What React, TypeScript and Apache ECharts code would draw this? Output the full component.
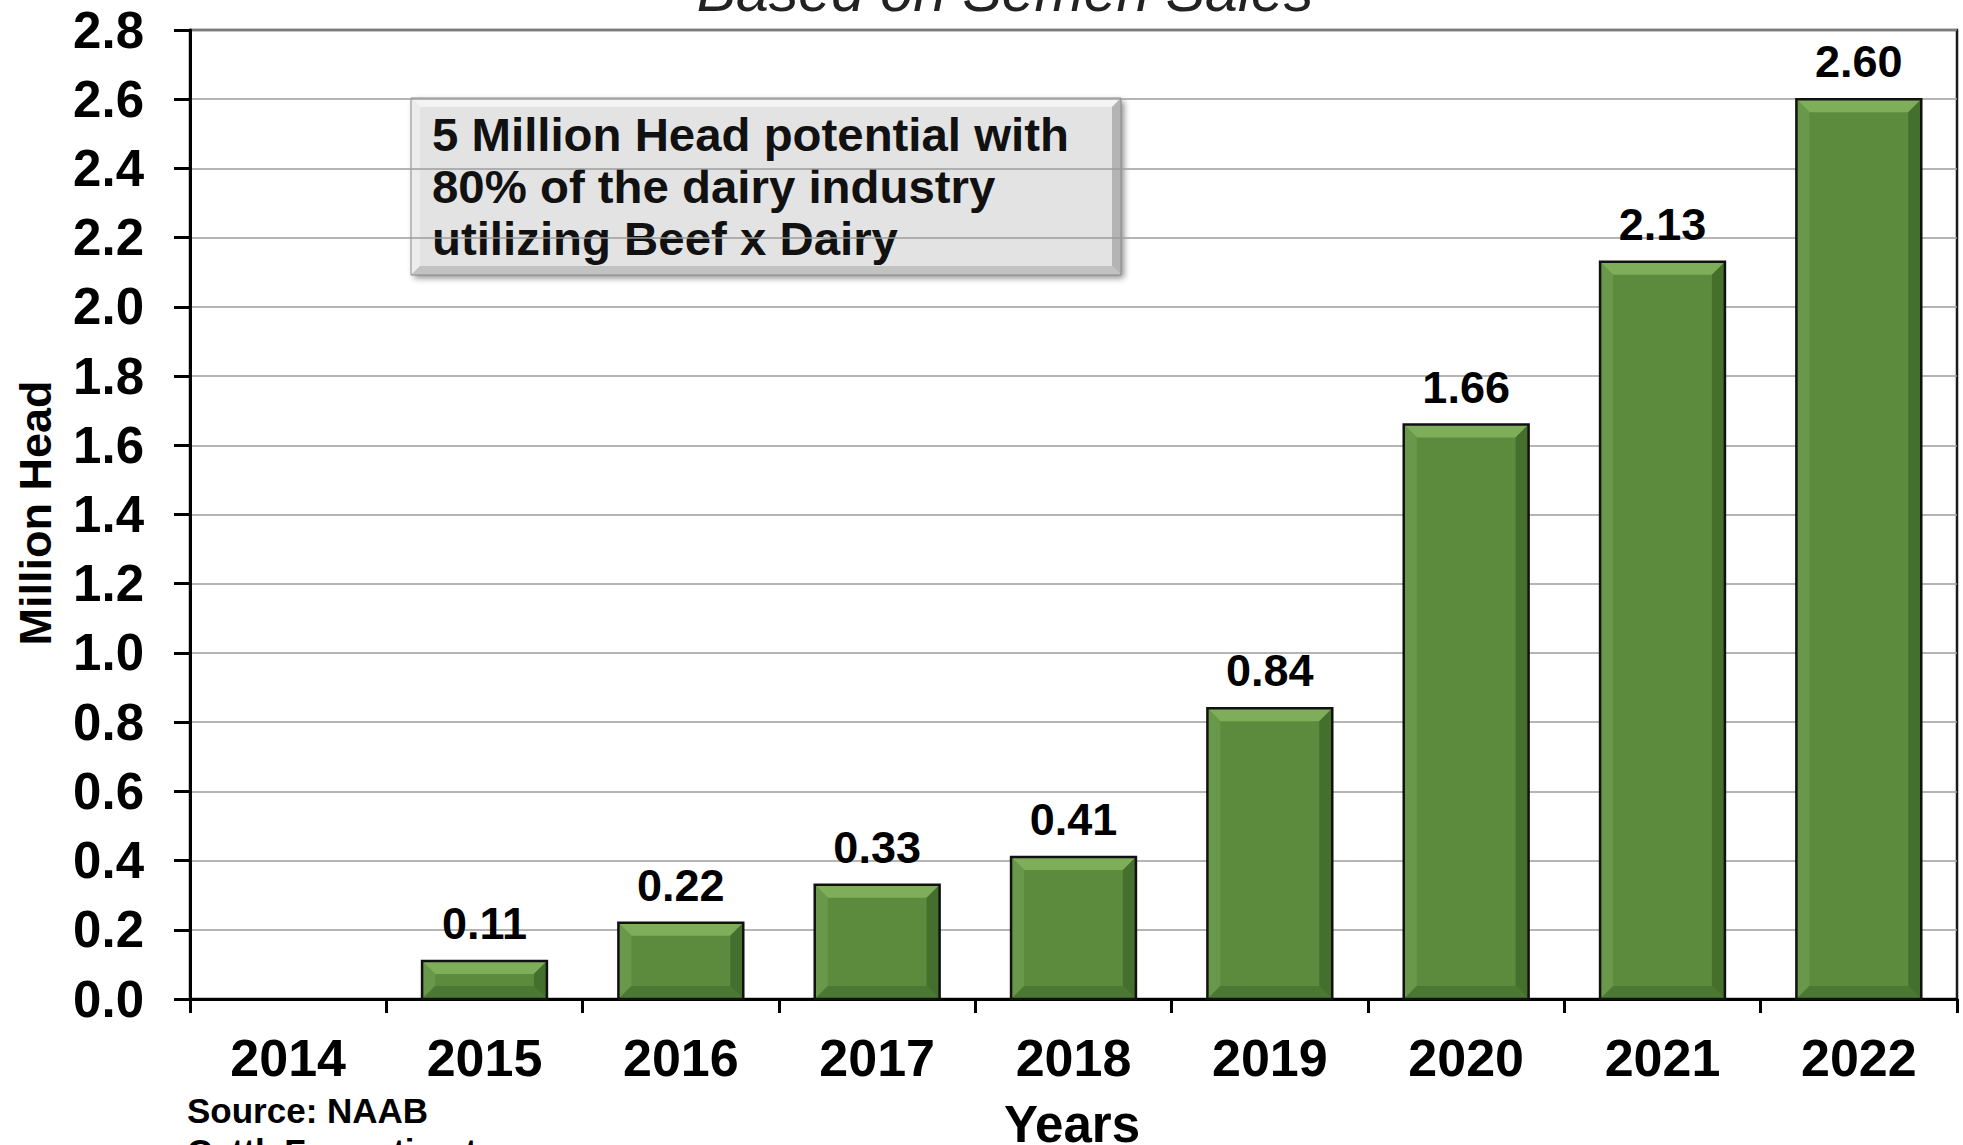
import React, { useEffect, useRef } from "react";
import * as echarts from "echarts";

const years = ["2014", "2015", "2016", "2017", "2018", "2019", "2020", "2021", "2022"];
const millionHead: (number | null)[] = [null, 0.11, 0.22, 0.33, 0.41, 0.84, 1.66, 2.13, 2.6];
const boxLines = ["5 Million Head potential with", "80% of the dairy industry", "utilizing Beef x Dairy"];
const titleText = "Based on Semen Sales";
const sourceLines = ["Source: NAAB", "CattleFax estimates"];
const yName = "Million Head";
const xName = "Years";

const FONT = "'Liberation Sans', Arial, Helvetica, sans-serif";

export default function App() {
  const ref = useRef<HTMLDivElement>(null);
  useEffect(() => {
    if (!ref.current) return;
    const chart = echarts.init(ref.current, undefined, { renderer: "svg" });

    const gridLeft = 190;
    const gridRight = 6;
    const gridTop = 30;
    const gridBottom = 146;

    const bx = 411, by = 98, bw = 710, bh = 177, bv = 9;

    const option: any = {
      animation: false,
      backgroundColor: "#ffffff",
      grid: {
        left: gridLeft,
        right: gridRight,
        top: gridTop,
        bottom: gridBottom,
        show: true,
        borderColor: "#1a1a1a",
        borderWidth: 2.5,
        backgroundColor: "transparent",
      },
      xAxis: {
        type: "category",
        data: years,
        boundaryGap: true,
        axisLine: { show: true, lineStyle: { color: "#000", width: 3 } },
        axisTick: { show: true, alignWithLabel: false, length: 14, lineStyle: { color: "#000", width: 3 } },
        axisLabel: {
          color: "#000",
          fontFamily: FONT,
          fontWeight: "bold",
          fontSize: 52,
          margin: 33,
          verticalAlign: "top",
        },
        splitLine: { show: false },
      },
      yAxis: {
        type: "value",
        min: 0,
        max: 2.8,
        interval: 0.2,
        axisLine: { show: true, lineStyle: { color: "#000", width: 3 } },
        axisTick: { show: true, length: 16, lineStyle: { color: "#000", width: 3 } },
        axisLabel: {
          color: "#000",
          fontFamily: FONT,
          fontWeight: "bold",
          fontSize: 51,
          margin: 46,
          formatter: (v: number) => v.toFixed(1),
        },
        splitLine: { show: true, lineStyle: { color: "#9c9c9c", width: 1.5 } },
      },
      series: [
        {
          type: "custom",
          data: millionHead.map((v, i) => [i, v]),
          encode: { x: 0, y: 1 },
          z: 5,
          renderItem: (params: any, api: any) => {
            const v = api.value(1);
            if (v === null || v === undefined || isNaN(v)) return null;
            const idx = api.value(0);
            const top = api.coord([idx, v]);
            const base = api.coord([idx, 0]);
            const w = api.size([1, 0])[0] * 0.636;
            const x0 = top[0] - w / 2;
            const x1 = top[0] + w / 2;
            const y0 = top[1];
            const y1 = base[1];
            const b = Math.min(13, (y1 - y0) / 2, w / 2);
            return {
              type: "group",
              children: [
                { type: "rect", shape: { x: x0, y: y0, width: w, height: y1 - y0 }, style: { fill: "#5d8b3d" } },
                {
                  type: "polygon",
                  shape: { points: [[x0, y0], [x1, y0], [x1 - b, y0 + b], [x0 + b, y0 + b]] },
                  style: { fill: "#7fae5a" },
                },
                {
                  type: "polygon",
                  shape: { points: [[x0, y0], [x0 + b, y0 + b], [x0 + b, y1 - b], [x0, y1]] },
                  style: { fill: "#69984a" },
                },
                {
                  type: "polygon",
                  shape: { points: [[x1, y0], [x1, y1], [x1 - b, y1 - b], [x1 - b, y0 + b]] },
                  style: { fill: "#456f2c" },
                },
                {
                  type: "polygon",
                  shape: { points: [[x0, y1], [x1, y1], [x1 - b, y1 - b], [x0 + b, y1 - b]] },
                  style: { fill: "#4b7832" },
                },
                {
                  type: "rect",
                  shape: { x: x0, y: y0, width: w, height: y1 - y0 },
                  style: { fill: "none", stroke: "#111", lineWidth: 2.5 },
                },
                {
                  type: "text",
                  x: top[0],
                  y: y0 - 15,
                  style: {
                    text: Number(v).toFixed(2),
                    fill: "#000",
                    font: `bold 45px ${FONT}`,
                    align: "center",
                    verticalAlign: "bottom",
                  },
                },
              ],
            };
          },
        },
      ],
      graphic: [
        {
          type: "text",
          x: 1005,
          y: 20,
          style: {
            text: titleText,
            fill: "#222",
            font: `italic 59px ${FONT}`,
            align: "center",
            verticalAlign: "bottom",
          },
        },
        {
          type: "group",
          children: [
            {
              type: "rect",
              shape: { x: bx, y: by, width: bw, height: bh },
              style: {
                fill: "#e3e3e3",
                shadowBlur: 6,
                shadowColor: "rgba(0,0,0,0.45)",
                shadowOffsetX: 3,
                shadowOffsetY: 3,
              },
            },
            {
              type: "polygon",
              shape: { points: [[bx, by], [bx + bw, by], [bx + bw - bv, by + bv], [bx + bv, by + bv]] },
              style: { fill: "#f4f4f4" },
            },
            {
              type: "polygon",
              shape: { points: [[bx, by], [bx + bv, by + bv], [bx + bv, by + bh - bv], [bx, by + bh]] },
              style: { fill: "#ececec" },
            },
            {
              type: "polygon",
              shape: { points: [[bx + bw, by], [bx + bw, by + bh], [bx + bw - bv, by + bh - bv], [bx + bw - bv, by + bv]] },
              style: { fill: "#b4b4b4" },
            },
            {
              type: "polygon",
              shape: { points: [[bx, by + bh], [bx + bw, by + bh], [bx + bw - bv, by + bh - bv], [bx + bv, by + bh - bv]] },
              style: { fill: "#c2c2c2" },
            },
            {
              type: "rect",
              shape: { x: bx, y: by, width: bw, height: bh },
              style: { fill: "none", stroke: "#8a8a8a", lineWidth: 1 },
            },
            ...boxLines.map((t, i) => ({
              type: "text",
              x: 432,
              y: 135 + i * 52,
              scaleX: 1.03,
              style: {
                text: t,
                fill: "#111",
                font: `bold 46px ${FONT}`,
                align: "left",
                verticalAlign: "middle",
              },
            })),
          ],
        },
        {
          type: "text",
          x: 35,
          y: 513,
          rotation: Math.PI / 2,
          style: {
            text: yName,
            fill: "#000",
            font: `bold 45px ${FONT}`,
            align: "center",
            verticalAlign: "middle",
          },
        },
        {
          type: "text",
          x: 1072,
          y: 1124,
          style: {
            text: xName,
            fill: "#000",
            font: `bold 51px ${FONT}`,
            align: "center",
            verticalAlign: "middle",
          },
        },
        ...sourceLines.map((t, i) => ({
          type: "text",
          x: 187,
          y: 1110 + i * 41,
          style: {
            text: t,
            fill: "#000",
            font: `bold 35px ${FONT}`,
            align: "left",
            verticalAlign: "middle",
          },
        })),
      ],
    };

    chart.setOption(option);
    return () => chart.dispose();
  }, []);

  return (
    <div
      ref={ref}
      style={{ position: "fixed", left: 0, top: 0, width: 1963, height: 1145, background: "#fff" }}
    />
  );
}
